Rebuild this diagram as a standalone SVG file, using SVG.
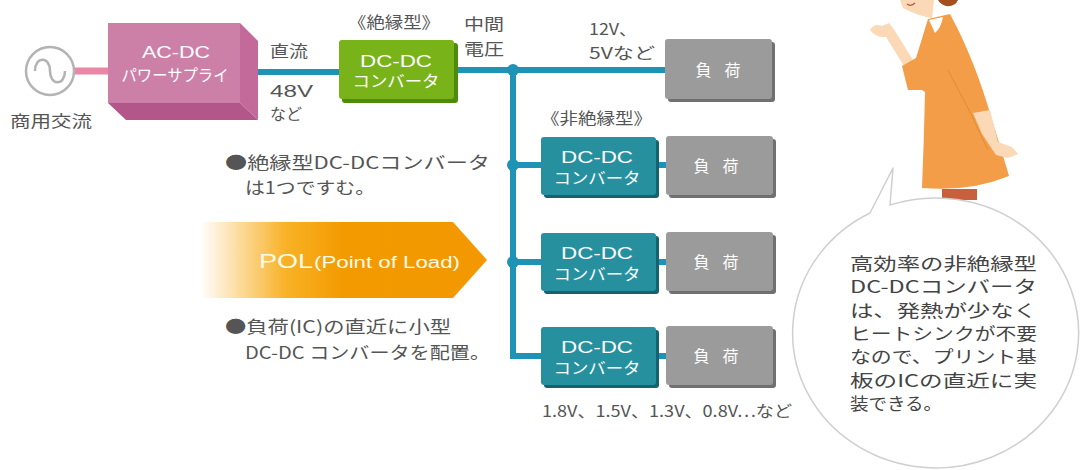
<svg xmlns="http://www.w3.org/2000/svg" width="1086" height="470" viewBox="0 0 1086 470">
  <defs>
    <style>
      text { font-family: "Noto Sans CJK JP", "Noto Sans", sans-serif; }
      .lbl { fill: #555; font-size: 16px; }
      .note { fill: #555; font-size: 17px; }
      .boxt { fill: #fff; font-size: 16px; text-anchor: middle; }
      .lat { font-family: "Liberation Sans", Arial, sans-serif; }
      .wire { stroke: #1f93b6; stroke-width: 6; fill: none; }
      .dot { fill: #1f93b6; }
      .load { fill: #9b9b9b; }
      .loadsh { fill: #707070; }
      .conv { fill: #27909f; }
      .convsh { fill: #16626f; }
      .skin { fill: #fbd9b6; }
    </style>
    <linearGradient id="polGrad" x1="0" y1="0" x2="1" y2="0">
      <stop offset="0" stop-color="#f7a400" stop-opacity="0"/>
      <stop offset="0.3" stop-color="#f7a400" stop-opacity="0.85"/>
      <stop offset="0.5" stop-color="#f39a00"/>
      <stop offset="1" stop-color="#f39800"/>
    </linearGradient>
  </defs>

  <!-- connectors -->
  <g id="connectors">
    <line x1="74" y1="71" x2="110" y2="71" stroke="#ea86a6" stroke-width="7"/>
    <line class="wire" x1="256" y1="72" x2="340" y2="72"/>
    <line class="wire" x1="455" y1="70" x2="667" y2="70"/>
    <polyline class="wire" points="513,70 513,356 542,356"/>
    <line class="wire" x1="513" y1="165" x2="542" y2="165"/>
    <line class="wire" x1="513" y1="262" x2="542" y2="262"/>
    <line class="wire" x1="655" y1="165" x2="667" y2="165"/>
    <line class="wire" x1="655" y1="262" x2="667" y2="262"/>
    <line class="wire" x1="655" y1="356" x2="667" y2="356"/>
    <circle class="dot" cx="513" cy="70" r="6"/>
    <circle class="dot" cx="513" cy="165" r="6"/>
    <circle class="dot" cx="513" cy="262" r="6"/>
  </g>

  <!-- AC source -->
  <g id="ac-source">
    <circle cx="50" cy="71" r="24" fill="#fff" stroke="#b3b3b3" stroke-width="2.5"/>
    <path d="M35,71 C35,56 50,56 50,71 C50,86 65,86 65,71" fill="none" stroke="#b3b3b3" stroke-width="2.5"/>
    <text class="lbl" x="51" y="127" font-size="18" text-anchor="middle" textLength="82" lengthAdjust="spacingAndGlyphs">商用交流</text>
  </g>

  <!-- AC-DC power supply -->
  <g id="acdc">
    <polygon points="240,23 258,41 258,120 240,103" fill="#c46a9a"/>
    <polygon points="108,103 240,103 258,120 126,120" fill="#b3578a"/>
    <rect x="108" y="23" width="132" height="80" fill="#cd80a7"/>
    <text class="boxt lat" x="176" y="58" font-size="19" textLength="68" lengthAdjust="spacingAndGlyphs">AC-DC</text>
    <text class="boxt" x="175" y="81" textLength="107" lengthAdjust="spacingAndGlyphs">パワーサプライ</text>
  </g>

  <g id="dc-labels">
    <text class="lbl" x="270" y="57" textLength="38" lengthAdjust="spacingAndGlyphs">直流</text>
    <text class="lbl lat" x="270" y="97" font-size="19" textLength="43" lengthAdjust="spacingAndGlyphs">48V</text>
    <text class="lbl" x="270" y="120" font-size="15">など</text>
  </g>

  <!-- isolated DC-DC converter -->
  <g id="iso-conv">
    <text class="lbl" x="348" y="28" textLength="92" lengthAdjust="spacingAndGlyphs">《絶縁型》</text>
    <rect x="342" y="43" width="116" height="60" rx="3" fill="#4d8b0c"/>
    <rect x="339" y="40" width="115" height="59" rx="3" fill="#79b31a"/>
    <text class="boxt lat" x="396" y="67" font-size="18" textLength="72" lengthAdjust="spacingAndGlyphs">DC-DC</text>
    <text class="boxt" x="396" y="87" textLength="87" lengthAdjust="spacingAndGlyphs">コンバータ</text>
  </g>

  <g id="mid-voltage">
    <text class="lbl" x="464" y="30" font-size="17" textLength="40" lengthAdjust="spacingAndGlyphs">中間</text>
    <text class="lbl" x="464" y="55" font-size="17" textLength="40" lengthAdjust="spacingAndGlyphs">電圧</text>
  </g>

  <g id="out-label">
    <text class="lbl" x="589" y="35" textLength="48" lengthAdjust="spacingAndGlyphs">12V、</text>
    <text class="lbl" x="589" y="59" textLength="66" lengthAdjust="spacingAndGlyphs">5Vなど</text>
  </g>

  <!-- load 0 -->
  <g id="load0">
    <rect class="loadsh" x="668" y="42" width="107" height="60" rx="3"/>
    <rect class="load" x="665" y="39" width="107" height="60" rx="3"/>
    <text class="boxt" x="718" y="76" font-size="17" textLength="45" lengthAdjust="spacing">負荷</text>
  </g>

  <text class="lbl" x="541" y="124" textLength="111" lengthAdjust="spacingAndGlyphs">《非絶縁型》</text>

  <!-- non-isolated converters -->
  <g id="conv1">
    <rect class="convsh" x="544" y="140" width="115" height="58" rx="3"/>
    <rect class="conv" x="541" y="137" width="115" height="58" rx="3"/>
    <text class="boxt lat" x="597" y="163" font-size="18" textLength="72" lengthAdjust="spacingAndGlyphs">DC-DC</text>
    <text class="boxt" x="597" y="184" textLength="87" lengthAdjust="spacingAndGlyphs">コンバータ</text>
  </g>
  <g id="load1">
    <rect class="loadsh" x="669" y="139" width="107" height="59" rx="3"/>
    <rect class="load" x="666" y="136" width="107" height="59" rx="3"/>
    <text class="boxt" x="716" y="172" font-size="17" textLength="45" lengthAdjust="spacing">負荷</text>
  </g>

  <g id="conv2">
    <rect class="convsh" x="544" y="236" width="115" height="58" rx="3"/>
    <rect class="conv" x="541" y="233" width="115" height="58" rx="3"/>
    <text class="boxt lat" x="597" y="259" font-size="18" textLength="72" lengthAdjust="spacingAndGlyphs">DC-DC</text>
    <text class="boxt" x="597" y="280" textLength="87" lengthAdjust="spacingAndGlyphs">コンバータ</text>
  </g>
  <g id="load2">
    <rect class="loadsh" x="669" y="235" width="107" height="59" rx="3"/>
    <rect class="load" x="666" y="232" width="107" height="59" rx="3"/>
    <text class="boxt" x="716" y="268" font-size="17" textLength="45" lengthAdjust="spacing">負荷</text>
  </g>

  <g id="conv3">
    <rect class="convsh" x="544" y="330" width="115" height="58" rx="3"/>
    <rect class="conv" x="541" y="327" width="115" height="58" rx="3"/>
    <text class="boxt lat" x="597" y="353" font-size="18" textLength="72" lengthAdjust="spacingAndGlyphs">DC-DC</text>
    <text class="boxt" x="597" y="374" textLength="87" lengthAdjust="spacingAndGlyphs">コンバータ</text>
  </g>
  <g id="load3">
    <rect class="loadsh" x="669" y="329" width="107" height="59" rx="3"/>
    <rect class="load" x="666" y="326" width="107" height="59" rx="3"/>
    <text class="boxt" x="716" y="362" font-size="17" textLength="45" lengthAdjust="spacing">負荷</text>
  </g>

  <text class="lbl" x="542" y="417" textLength="250" lengthAdjust="spacingAndGlyphs">1.8V、1.5V、1.3V、0.8V…など</text>

  <!-- notes -->
  <g id="note-iso">
    <text class="note" x="225" y="169" textLength="265" lengthAdjust="spacingAndGlyphs">●絶縁型DC-DCコンバータ</text>
    <text class="note" x="245" y="194" textLength="130" lengthAdjust="spacingAndGlyphs">は1つですむ。</text>
  </g>

  <g id="pol">
    <polygon points="200,222 453,222 487,260 453,298 200,298" fill="url(#polGrad)"/>
    <text class="lat" x="259" y="268" fill="#fffbe8" font-size="20" textLength="54" lengthAdjust="spacingAndGlyphs">POL</text>
    <text class="lat" x="314" y="268" fill="#fffbe8" font-size="16" textLength="146" lengthAdjust="spacingAndGlyphs">(Point of Load)</text>
  </g>

  <g id="note-pol">
    <text class="note" x="225" y="333" textLength="226" lengthAdjust="spacingAndGlyphs">●負荷(IC)の直近に小型</text>
    <text class="note" x="245" y="359" textLength="245" lengthAdjust="spacingAndGlyphs">DC-DC コンバータを配置。</text>
  </g>

  <!-- figure -->
  <g id="figure">
    <path d="M938,0 L958,0 Q955,7 946,6 Q940,4 938,0 Z" fill="#a44f1e"/>
    <path d="M900,0 L934,0 L932,18 Q918,16 903,8 Z" class="skin"/>
    <path d="M907,4 Q911,7 915,3" stroke="#c0504a" stroke-width="1.2" fill="none"/>
    <path d="M870,30 Q874,23 882,26 L889,23 L893,28 L913,60 L904,66 L886,37 Q876,38 870,30 Z" class="skin"/>
    <path d="M928,19 L950,14 Q975,60 992,120 Q1003,155 1009,176 Q970,192 922,188 Q924,140 925,92 L922,90 L908,90 L902,66 L916,58 Z" fill="#f39d48"/>
    <path d="M948,70 Q970,110 988,150" stroke="#e58a37" stroke-width="1" fill="none"/>
    <path d="M929,20 L943,17 Q941,28 935,33 Z" fill="#fff"/>
    <path d="M973,113 L990,110 L998,142 L1012,147 L1018,154 L1008,158 L996,155 L982,134 Z" class="skin"/>
    <rect x="942" y="189" width="35" height="11" fill="#c8603e"/>
  </g>

  <!-- speech bubble -->
  <g id="bubble">
    <path d="M870,213 A143,135 0 1 0 890,205 L893,168 Z" fill="#fff" stroke="#cfcfcf" stroke-width="1.5" stroke-linejoin="round"/>
    <g fill="#444" font-size="17">
      <text x="850" y="270" textLength="187" lengthAdjust="spacingAndGlyphs">高効率の非絶縁型</text>
      <text x="850" y="293" textLength="187" lengthAdjust="spacingAndGlyphs">DC-DCコンバータ</text>
      <text x="850" y="317" textLength="187" lengthAdjust="spacingAndGlyphs">は、発熱が少なく</text>
      <text x="850" y="340" textLength="187" lengthAdjust="spacingAndGlyphs">ヒートシンクが不要</text>
      <text x="850" y="363" textLength="187" lengthAdjust="spacingAndGlyphs">なので、プリント基</text>
      <text x="850" y="387" textLength="187" lengthAdjust="spacingAndGlyphs">板のICの直近に実</text>
      <text x="850" y="410" textLength="92" lengthAdjust="spacingAndGlyphs">装できる。</text>
    </g>
  </g>
</svg>
